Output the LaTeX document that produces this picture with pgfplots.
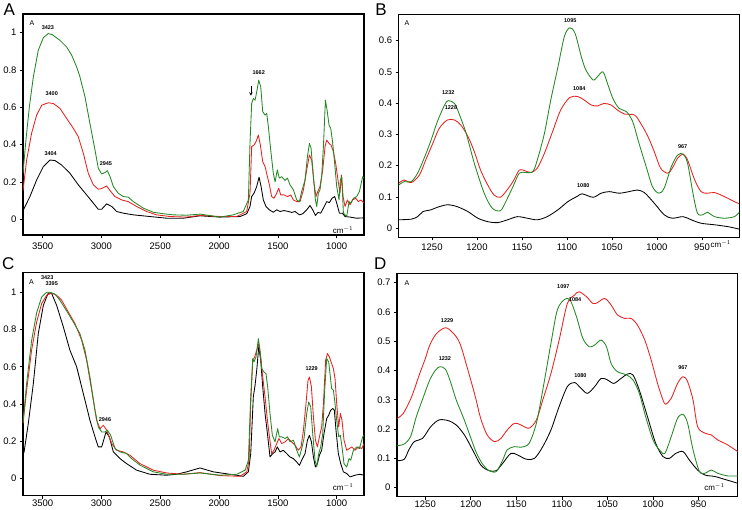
\documentclass[border=0pt]{standalone}
\usepackage{fontspec}
\setmainfont{Liberation Sans}
\usepackage{pgfplots}
\pgfplotsset{compat=1.18}

\definecolor{sgreen}{RGB}{35,135,35}
\definecolor{sred}{RGB}{232,32,32}

\pgfplotsset{
  spec/.style={
    scale only axis,
    x dir=reverse,
    clip mode=individual,
    tick pos=left,
    tick align=outside,
    major tick length=3pt,
    axis line style={line width=1.1pt},
    every tick/.style={black, line width=0.6pt},
    tick label style={font=\fontsize{9.5}{11}\selectfont},
    /pgf/number format/assume math mode=true,
    /pgf/number format/1000 sep={},
    /pgf/number format/fixed,
    every axis plot/.append style={line width=0.85pt, line join=round},
  },
}
\tikzset{
  pk/.style={font=\fontsize{5.5}{6}\selectfont\bfseries, inner sep=0pt},
  smallA/.style={font=\fontsize{7}{8}\selectfont, inner sep=0pt},
  cmlab/.style={font=\fontsize{8}{9}\selectfont, inner sep=0pt},
}

\begin{document}
\begin{tikzpicture}[x=1pt,y=1pt]
\useasboundingbox (0,0) rectangle (742,509);

% ---------- A ----------
\begin{axis}[spec, at={(23pt,274pt)}, anchor=south west,
  width=341pt, height=221pt,
  xmin=768, xmax=3667, ymin=-0.085, ymax=1.1,
  xtick={1000,1500,...,3500}, ytick={0,0.2,...,1},
  xticklabel style={yshift=-1.5pt}]
\addplot[black] table {
3667 0.045
3608 0.121
3551 0.21
3494 0.282
3438 0.317
3395 0.314
3338 0.29
3268 0.246
3197 0.184
3126 0.13
3069 0.086
3027 0.053
2998 0.053
2956 0.082
2913 0.068
2871 0.041
2814 0.032
2729 0.023
2587 0.014
2446 0.005
2304 0.005
2162 0.018
1992 0.011
1822 0.014
1765 0.029
1737 0.068
1723 0.121
1703 0.139
1680 0.175
1660 0.225
1643 0.175
1624 0.103
1601 0.068
1573 0.05
1539 0.037
1510 0.05
1482 0.041
1448 0.046
1411 0.041
1383 0.036
1354 0.041
1317 0.023
1289 0.029
1255 0.05
1227 0.073
1204 0.05
1181 0.02
1159 0.036
1136 0.032
1113 0.059
1085 0.094
1062 0.089
1040 0.112
1017 0.121
1000 0.086
977 0.032
952 0.032
929 0.014
887 0.011
830 0.005
768 0.007
};
\addplot[sred] table {
3667 0.153
3636 0.317
3594 0.46
3551 0.558
3508 0.611
3452 0.624
3409 0.62
3353 0.594
3296 0.54
3239 0.487
3197 0.442
3154 0.353
3112 0.246
3069 0.184
3027 0.16
2998 0.164
2956 0.178
2927 0.153
2885 0.121
2828 0.103
2772 0.094
2701 0.068
2616 0.041
2531 0.023
2417 0.014
2276 0.011
2162 0.02
1992 0.014
1850 0.014
1765 0.041
1737 0.139
1723 0.389
1703 0.397
1686 0.415
1666 0.451
1649 0.397
1629 0.308
1609 0.282
1589 0.228
1572 0.184
1553 0.121
1533 0.112
1510 0.139
1493 0.166
1476 0.13
1448 0.13
1419 0.121
1391 0.13
1368 0.103
1340 0.094
1312 0.094
1283 0.157
1255 0.264
1232 0.344
1213 0.317
1193 0.193
1176 0.121
1161 0.148
1142 0.175
1119 0.264
1099 0.389
1085 0.424
1065 0.406
1048 0.397
1028 0.362
1009 0.30
989 0.21
972 0.139
960 0.237
946 0.121
929 0.068
909 0.103
887 0.077
864 0.103
838 0.112
816 0.094
793 0.103
768 0.086
};
\addplot[sgreen] table {
3667 0.246
3642 0.424
3613 0.602
3579 0.763
3537 0.906
3494 0.973
3452 0.995
3420 0.99
3353 0.959
3296 0.923
3253 0.879
3211 0.816
3183 0.763
3140 0.656
3098 0.513
3055 0.371
3027 0.273
2998 0.242
2970 0.25
2950 0.26
2927 0.228
2899 0.175
2857 0.139
2814 0.121
2772 0.118
2729 0.094
2644 0.059
2559 0.037
2474 0.029
2389 0.023
2276 0.021
2162 0.027
1992 0.011
1879 0.023
1794 0.041
1751 0.103
1737 0.41
1723 0.62
1709 0.647
1694 0.638
1680 0.683
1663 0.745
1646 0.71
1629 0.576
1609 0.558
1595 0.567
1581 0.496
1561 0.371
1539 0.246
1524 0.20
1505 0.264
1488 0.22
1468 0.228
1439 0.207
1419 0.22
1397 0.184
1368 0.157
1340 0.103
1317 0.094
1298 0.148
1269 0.21
1249 0.335
1232 0.406
1218 0.38
1198 0.228
1181 0.103
1170 0.068
1156 0.139
1142 0.157
1128 0.228
1113 0.389
1096 0.638
1082 0.585
1065 0.504
1051 0.487
1037 0.424
1020 0.317
1000 0.175
980 0.103
969 0.21
957 0.228
943 0.032
915 0.014
895 0.094
881 0.086
858 0.112
830 0.121
807 0.148
779 0.228
768 0.22
};
\node[smallA] at (axis cs:3590,1.051) {A};
\node[pk] at (axis cs:3455,1.025) {3423};
\node[pk] at (axis cs:3423,0.672) {3400};
\node[pk] at (axis cs:3432,0.349) {3404};
\node[pk] at (axis cs:2962,0.30) {2945};
\node[pk] at (axis cs:1663,0.784) {1662};
\draw[-stealth, line width=0.5pt] (axis cs:1729,0.712) -- (axis cs:1729,0.662);
\node[cmlab] at (axis cs:946,-0.057) {cm$^{-1}$};
\end{axis}

% ---------- B ----------
\begin{axis}[spec, at={(398.7pt,271.7pt)}, anchor=south west,
  width=340.6pt, height=223pt,
  xmin=908.5, xmax=1287, ymin=-0.029, ymax=0.684,
  xtick={950,1000,...,1250}, ytick={0,0.1,...,0.6}]
\addplot[black, smooth] table {
1287 0.027
1273 0.029
1266 0.037
1260 0.053
1251 0.059
1244 0.067
1233 0.075
1222 0.069
1210 0.053
1199 0.032
1188 0.021
1177 0.018
1166 0.027
1155 0.037
1144 0.032
1133 0.027
1122 0.037
1110 0.059
1099 0.085
1088 0.103
1083 0.11
1071 0.099
1062 0.112
1053 0.117
1042 0.112
1031 0.117
1022 0.122
1014 0.114
1003 0.08
992 0.043
983 0.032
971 0.037
962 0.027
951 0.016
936 0.011
921 0.005
908.5 -0.003
};
\addplot[sred, smooth] table {
1287 0.144
1281 0.154
1273 0.146
1264 0.17
1257 0.218
1249 0.272
1242 0.319
1233 0.346
1225 0.346
1218 0.33
1210 0.293
1203 0.245
1196 0.186
1188 0.138
1181 0.106
1174 0.099
1168 0.117
1160 0.149
1153 0.186
1147 0.184
1140 0.178
1133 0.192
1125 0.24
1116 0.309
1107 0.378
1097 0.418
1088 0.421
1081 0.41
1073 0.394
1066 0.391
1059 0.399
1051 0.394
1044 0.378
1036 0.365
1025 0.362
1018 0.335
1010 0.293
1003 0.245
996 0.192
988 0.176
983 0.192
977 0.224
971 0.237
966 0.218
958 0.154
951 0.117
944 0.112
936 0.114
925 0.101
914 0.085
908.5 0.078
};
\addplot[sgreen, smooth] table {
1287 0.138
1281 0.149
1273 0.149
1266 0.176
1258 0.229
1251 0.282
1244 0.341
1236 0.394
1232 0.408
1225 0.399
1220 0.367
1212 0.303
1203 0.208
1192 0.112
1183 0.064
1174 0.056
1168 0.085
1160 0.133
1153 0.176
1146 0.178
1138 0.181
1133 0.218
1125 0.304
1118 0.41
1110 0.516
1103 0.612
1097 0.641
1091 0.623
1084 0.548
1079 0.506
1071 0.474
1066 0.485
1060 0.5
1055 0.463
1049 0.415
1042 0.383
1034 0.373
1027 0.341
1020 0.272
1012 0.197
1005 0.133
998 0.112
992 0.128
984 0.197
977 0.234
971 0.237
966 0.208
960 0.112
955 0.048
949 0.043
944 0.051
936 0.037
925 0.032
914 0.037
908.5 0.051
};
\node[smallA] at (axis cs:1277.8,0.655) {A};
\node[pk] at (axis cs:1096.3,0.663) {1095};
\node[pk] at (axis cs:1231.9,0.434) {1232};
\node[pk] at (axis cs:1228.9,0.387) {1228};
\node[pk] at (axis cs:1086.3,0.445) {1084};
\node[pk] at (axis cs:971.5,0.261) {967};
\node[pk] at (axis cs:1081.9,0.135) {1080};
\node[cmlab] at (axis cs:929,-0.051) {cm$^{-1}$};
\end{axis}

% ---------- C ----------
\begin{axis}[spec, at={(23pt,13.3pt)}, anchor=south west,
  width=341pt, height=223pt,
  xmin=768, xmax=3667, ymin=-0.092, ymax=1.105,
  xtick={1000,1500,...,3500}, ytick={0,0.2,...,1},
  xticklabel style={yshift=2pt}]
\addplot[black] table {
3659 0.138
3622 0.295
3579 0.51
3537 0.778
3494 0.93
3452 0.996
3423 0.993
3381 0.93
3324 0.814
3268 0.689
3211 0.6
3154 0.456
3098 0.313
3055 0.224
3027 0.17
2998 0.17
2961 0.25
2933 0.224
2899 0.143
2842 0.107
2786 0.08
2701 0.045
2587 0.023
2446 0.018
2361 0.023
2276 0.036
2162 0.057
2049 0.036
1907 0.023
1794 0.012
1751 0.036
1731 0.134
1709 0.438
1694 0.501
1680 0.581
1663 0.706
1646 0.635
1629 0.492
1609 0.349
1589 0.242
1567 0.116
1544 0.134
1524 0.143
1505 0.17
1482 0.143
1454 0.152
1425 0.134
1397 0.116
1368 0.107
1340 0.089
1317 0.071
1298 0.098
1269 0.134
1249 0.206
1232 0.232
1215 0.197
1198 0.116
1181 0.062
1164 0.08
1147 0.125
1128 0.152
1108 0.241
1085 0.322
1068 0.34
1051 0.367
1034 0.376
1020 0.367
1006 0.259
986 0.134
966 0.08
943 0.036
915 0.027
887 0.009
844 0.018
802 0.023
768 0.018
};
\addplot[sred] table {
3667 0.295
3636 0.474
3594 0.689
3551 0.84
3508 0.94
3466 0.984
3423 0.996
3381 0.984
3338 0.957
3282 0.894
3225 0.832
3168 0.742
3126 0.635
3083 0.474
3041 0.313
3012 0.268
2984 0.286
2956 0.26
2913 0.188
2871 0.152
2814 0.143
2757 0.125
2672 0.08
2559 0.045
2446 0.03
2304 0.023
2162 0.032
1992 0.016
1822 0.012
1765 0.036
1745 0.098
1731 0.402
1714 0.635
1697 0.653
1680 0.689
1663 0.724
1646 0.653
1629 0.546
1609 0.438
1589 0.313
1572 0.224
1553 0.134
1533 0.152
1510 0.188
1491 0.215
1468 0.188
1439 0.197
1411 0.215
1383 0.197
1354 0.179
1326 0.152
1303 0.17
1283 0.259
1261 0.402
1244 0.527
1232 0.545
1215 0.492
1198 0.331
1181 0.206
1164 0.17
1147 0.224
1128 0.277
1113 0.402
1094 0.635
1079 0.671
1062 0.653
1043 0.617
1028 0.59
1014 0.536
1000 0.402
983 0.277
969 0.349
955 0.313
938 0.206
915 0.152
892 0.161
872 0.17
844 0.152
816 0.17
787 0.161
768 0.188
};
\addplot[sgreen] table {
3667 0.30
3636 0.51
3594 0.74
3551 0.89
3508 0.975
3466 1.0
3438 1.0
3395 0.99
3353 0.957
3296 0.90
3239 0.84
3183 0.778
3140 0.689
3098 0.546
3055 0.367
3027 0.277
2998 0.25
2970 0.25
2950 0.26
2922 0.233
2885 0.161
2842 0.143
2786 0.134
2743 0.107
2672 0.072
2559 0.036
2446 0.023
2304 0.023
2162 0.03
1992 0.018
1850 0.023
1779 0.045
1751 0.098
1731 0.438
1714 0.644
1703 0.626
1686 0.653
1666 0.751
1652 0.688
1638 0.59
1618 0.572
1601 0.563
1587 0.492
1567 0.349
1547 0.232
1524 0.197
1502 0.268
1488 0.224
1468 0.224
1439 0.215
1419 0.224
1397 0.197
1368 0.206
1340 0.152
1317 0.116
1298 0.161
1278 0.215
1255 0.349
1238 0.411
1221 0.385
1204 0.241
1184 0.098
1170 0.062
1153 0.134
1136 0.17
1119 0.241
1102 0.474
1085 0.644
1068 0.626
1054 0.545
1043 0.483
1028 0.474
1014 0.402
1000 0.313
983 0.224
969 0.232
955 0.17
938 0.08
915 0.062
895 0.107
881 0.098
858 0.152
830 0.17
807 0.161
779 0.224
768 0.232
};
\node[smallA] at (axis cs:3594,1.055) {A};
\node[pk] at (axis cs:3461,1.077) {3423};
\node[pk] at (axis cs:3423,1.047) {3395};
\node[pk] at (axis cs:2970,0.317) {2946};
\node[pk] at (axis cs:1213,0.59) {1229};
\node[cmlab] at (axis cs:944,-0.048) {cm$^{-1}$};
\end{axis}

% ---------- D ----------
\begin{axis}[spec, at={(397pt,12.3pt)}, anchor=south west,
  width=340.7pt, height=223.4pt,
  xmin=907, xmax=1281, ymin=-0.031, ymax=0.732,
  xtick={950,1000,...,1250}, ytick={0,0.1,...,0.7},
  xticklabel style={yshift=2pt}]
\addplot[black, smooth] table {
1281 0.092
1273 0.097
1268 0.129
1262 0.157
1253 0.168
1244 0.208
1235 0.231
1225 0.229
1216 0.214
1207 0.18
1198 0.129
1189 0.077
1180 0.058
1172 0.058
1165 0.083
1156 0.117
1149 0.112
1139 0.097
1130 0.1
1121 0.14
1112 0.197
1103 0.277
1094 0.345
1086 0.359
1079 0.339
1072 0.322
1064 0.345
1057 0.373
1050 0.368
1043 0.356
1035 0.373
1028 0.388
1022 0.385
1015 0.333
1006 0.242
997 0.151
989 0.106
982 0.1
975 0.117
967 0.123
960 0.094
951 0.06
943 0.043
932 0.038
921 0.028
907 0.015
};
\addplot[sred, smooth] table {
1281 0.236
1274 0.254
1265 0.31
1256 0.39
1250 0.44
1245 0.487
1238 0.525
1228 0.546
1220 0.53
1212 0.493
1203 0.40
1195 0.31
1189 0.235
1182 0.18
1174 0.157
1167 0.168
1160 0.197
1152 0.22
1145 0.214
1136 0.203
1128 0.231
1121 0.299
1112 0.39
1103 0.504
1094 0.629
1086 0.658
1081 0.669
1073 0.652
1066 0.629
1061 0.632
1053 0.646
1046 0.624
1039 0.59
1031 0.578
1024 0.578
1017 0.555
1009 0.504
1002 0.436
995 0.356
989 0.299
986 0.285
980 0.305
973 0.356
967 0.379
962 0.362
956 0.299
951 0.208
943 0.186
936 0.18
929 0.163
918 0.146
907 0.123
};
\addplot[sgreen, smooth] table {
1281 0.143
1273 0.149
1266 0.175
1260 0.24
1252 0.31
1245 0.368
1239 0.40
1234 0.413
1228 0.405
1223 0.368
1216 0.30
1207 0.23
1200 0.17
1194 0.12
1187 0.08
1180 0.058
1172 0.055
1165 0.094
1160 0.129
1152 0.14
1145 0.138
1136 0.151
1128 0.22
1121 0.333
1112 0.493
1105 0.607
1097 0.643
1091 0.641
1084 0.584
1077 0.51
1070 0.481
1064 0.487
1057 0.504
1051 0.481
1046 0.424
1039 0.396
1029 0.385
1022 0.368
1015 0.322
1008 0.242
1000 0.163
993 0.129
987 0.117
980 0.174
973 0.237
967 0.25
962 0.22
956 0.129
949 0.055
943 0.049
936 0.06
929 0.049
918 0.04
907 0.04
};
\node[smallA] at (axis cs:1270,0.698) {A};
\node[pk] at (axis cs:1098.4,0.686) {1097};
\node[pk] at (axis cs:1085.5,0.643) {1084};
\node[pk] at (axis cs:1226,0.572) {1229};
\node[pk] at (axis cs:1228.4,0.44) {1232};
\node[pk] at (axis cs:1079.7,0.381) {1080};
\node[pk] at (axis cs:967.2,0.411) {967};
\node[cmlab] at (axis cs:932.4,0.001) {cm$^{-1}$};
\end{axis}

% panel letters
\node[font=\fontsize{17}{19}\selectfont, inner sep=0pt] at (9.3,499) {A};
\node[font=\fontsize{17}{19}\selectfont, inner sep=0pt] at (381,499) {B};
\node[font=\fontsize{17}{19}\selectfont, inner sep=0pt] at (8.3,245.7) {C};
\node[font=\fontsize{17}{19}\selectfont, inner sep=0pt] at (380.3,245.7) {D};
\end{tikzpicture}
\end{document}
